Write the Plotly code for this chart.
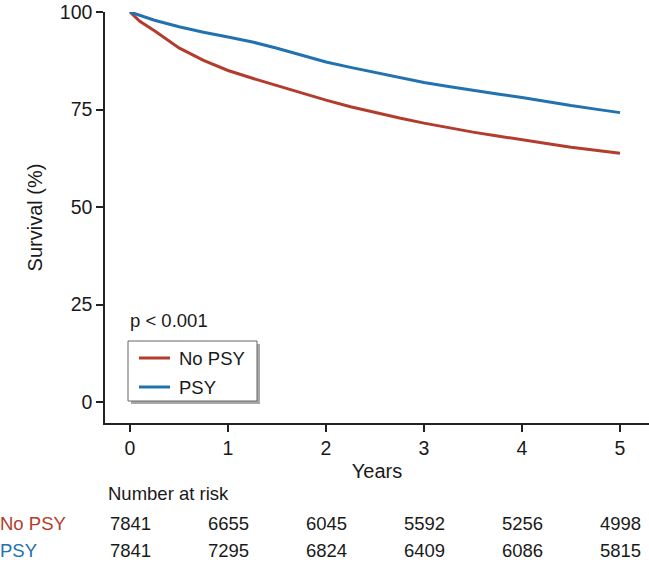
import plotly.graph_objects as go

# ---- data ----
years = [0, 0.1, 0.25, 0.5, 0.75, 1, 1.25, 1.5, 1.75, 2, 2.25, 2.5, 2.75, 3, 3.25, 3.5, 3.75, 4, 4.25, 4.5, 4.75, 5]
no_psy = [100, 97.6, 95.2, 90.8, 87.6, 85.0, 83.0, 81.1, 79.2, 77.4, 75.7, 74.2, 72.8, 71.5, 70.3, 69.2, 68.2, 67.3, 66.3, 65.3, 64.5, 63.8]
psy = [100, 99.1, 97.9, 96.2, 94.8, 93.6, 92.3, 90.7, 88.9, 87.2, 85.8, 84.5, 83.2, 81.9, 80.9, 79.9, 79.0, 78.1, 77.0, 76.0, 75.1, 74.2]
risk_times = [0, 1, 2, 3, 4, 5]
risk_no_psy = [7841, 6655, 6045, 5592, 5256, 4998]
risk_psy = [7841, 7295, 6824, 6409, 6086, 5815]
x_ticks = [0, 1, 2, 3, 4, 5]
y_ticks = [0, 25, 50, 75, 100]
series_names = ["No PSY", "PSY"]

RED = "#B33D2C"
BLUE = "#2272B0"
FONT = "Liberation Sans, Arial, sans-serif"

fig = go.Figure()
fig.add_trace(go.Scatter(x=years, y=no_psy, mode="lines", name=series_names[0],
                         line=dict(color=RED, width=3)))
fig.add_trace(go.Scatter(x=years, y=psy, mode="lines", name=series_names[1],
                         line=dict(color=BLUE, width=3)))

L, T, B = 105, 12, 141
W, H = 649, 564
pw, ph = W - L, H - T - B


def px(xp):
    return (xp - L) / pw


def py(yp):
    return (H - B - yp) / ph


fig.update_layout(
    width=W, height=H,
    margin=dict(l=L, r=0, t=T, b=B, pad=0),
    plot_bgcolor="white", paper_bgcolor="white",
    font=dict(family=FONT, size=18.5, color="#1a1a1a"),
    showlegend=False,
    xaxis=dict(range=[-25 / 98, 519 / 98], tickvals=x_ticks, showgrid=False, zeroline=False,
               showline=True, linecolor="#222222", linewidth=1.5, ticks="outside",
               ticklen=7, tickwidth=1.5, tickcolor="#222222",
               tickfont=dict(size=19.5),
               title=dict(text="Years", font=dict(size=20), standoff=6)),
    yaxis=dict(range=[-21 / 3.9, 100], tickvals=y_ticks, showgrid=False, zeroline=False,
               showline=True, linecolor="#222222", linewidth=1.5, ticks="outside",
               ticklen=7, tickwidth=1.5, tickcolor="#222222",
               tickfont=dict(size=19.5),
               title=dict(text="Survival (%)", font=dict(size=20), standoff=12)),
)

# legend box with drop shadow
fig.add_shape(type="rect", xref="paper", yref="paper", layer="above",
              x0=px(131), x1=px(260), y0=py(404), y1=py(344),
              line=dict(width=0), fillcolor="#a8a8a8")
fig.add_shape(type="rect", xref="paper", yref="paper", layer="above",
              x0=px(128), x1=px(257), y0=py(401), y1=py(341),
              line=dict(width=1, color="#666666"), fillcolor="white")
for name, col, ypix in [(series_names[0], RED, 358), (series_names[1], BLUE, 387)]:
    fig.add_shape(type="line", xref="paper", yref="paper", layer="above",
                  x0=px(139), x1=px(170), y0=py(ypix), y1=py(ypix),
                  line=dict(color=col, width=3))
    fig.add_annotation(xref="paper", yref="paper", x=px(177), y=py(ypix),
                       text=name, showarrow=False, xanchor="left", yanchor="middle",
                       font=dict(size=18.5))

# p-value
fig.add_annotation(xref="paper", yref="paper", x=px(128), y=py(320),
                   text="p < 0.001", showarrow=False, xanchor="left", yanchor="middle",
                   font=dict(size=18.5))

# number at risk table
fig.add_annotation(xref="paper", yref="paper", x=px(106), y=py(493),
                   text="Number at risk", showarrow=False, xanchor="left", yanchor="middle",
                   font=dict(size=18.5))
rows = [(series_names[0], risk_no_psy, RED, 523), (series_names[1], risk_psy, BLUE, 550)]
for label, vals, col, ypix in rows:
    fig.add_annotation(xref="paper", yref="paper", x=px(-2), y=py(ypix),
                       text=label, showarrow=False, xanchor="left", yanchor="middle",
                       font=dict(size=18.5, color=col))
    for t, v in zip(risk_times, vals):
        fig.add_annotation(xref="x", yref="paper", x=t, y=py(ypix),
                           text=str(v), showarrow=False, xanchor="center", yanchor="middle",
                           font=dict(size=18.5))

fig.write_html("out.html")
